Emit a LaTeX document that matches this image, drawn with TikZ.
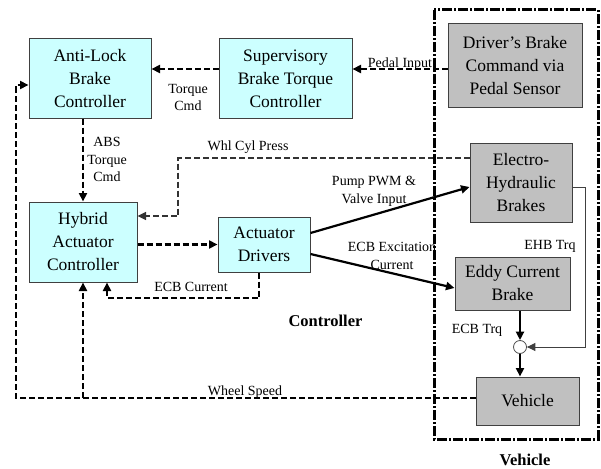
\documentclass[tikz,border=0pt]{standalone}
\usepackage{fontspec}
\setmainfont{Liberation Serif}
\usetikzlibrary{arrows.meta,calc}
\definecolor{ctlfill}{HTML}{CCFFFF}
\definecolor{plantfill}{HTML}{C0C0C0}
\begin{document}
\begin{tikzpicture}[x=1pt,y=-1pt,
  blk/.style={draw=black!75,line width=1pt,inner sep=0pt,align=center,font=\fontsize{17.5}{23}\selectfont},
  ctl/.style={blk,fill=ctlfill},
  plant/.style={blk,fill=plantfill},
  lbl/.style={font=\fontsize{14}{17.5}\selectfont,align=center,inner sep=0pt},
  boldlbl/.style={font=\fontsize{16.5}{20}\selectfont\bfseries,inner sep=0pt},
  tip/.style={-{Triangle[length=8.5pt,width=8pt]}},
  dsh/.style={tip,dash pattern=on 6pt off 3pt,line width=2.2pt},
  sol/.style={tip,line width=2.2pt},
]
\useasboundingbox (0,0) rectangle (601,468);

% blocks
\node[ctl,minimum width=122pt,minimum height=79pt] (abs) at (90,78.5) {Anti-Lock\\Brake\\Controller};
\node[ctl,minimum width=133pt,minimum height=79pt] (sup) at (285.5,78.5) {Supervisory\\Brake Torque\\Controller};
\node[plant,minimum width=134pt,minimum height=83pt] (drv) at (515,65.5) {Driver’s Brake\\Command via\\Pedal Sensor};
\node[plant,minimum width=102pt,minimum height=79pt] (ehb) at (521,182.5) {Electro-\\Hydraulic\\Brakes};
\node[ctl,minimum width=108pt,minimum height=80pt] (hyb) at (83,242) {Hybrid\\Actuator\\Controller};
\node[ctl,minimum width=92pt,minimum height=55pt] (act) at (264,244.5) {Actuator\\Drivers};
\node[plant,minimum width=115pt,minimum height=53pt] (ecb) at (512.5,283.5) {Eddy Current\\Brake};
\node[plant,minimum width=103pt,minimum height=48pt] (veh) at (527.5,401) {Vehicle};
\node[draw=black!70,fill=white,circle,minimum size=13pt,inner sep=0pt,line width=0.8pt] (sum) at (520,347) {};

% helper coordinates
\coordinate (yped) at (0,69);
\coordinate (wc1) at (178,158);
\coordinate (wc2) at (178,216);
\coordinate (ec1) at (259,298);
\coordinate (ec2) at (107,298);
\coordinate (ws1) at (16,398);
\coordinate (ws2) at (16,85);
\coordinate (wsb) at (83,398);
\coordinate (eh1) at (585,187);
\coordinate (eh2) at (585,347);

% connectors
\draw[dsh] (drv.west |- yped) -- (sup.east |- yped);
\draw[dsh] (sup.west |- yped) -- (abs.east |- yped);
\draw[dsh] (abs.south -| hyb.north) -- (hyb.north);
\draw[dsh,line width=1.6pt,draw=black!80] (ehb.west |- wc1) -- (wc1) -- (wc2) -- (hyb.east |- wc2);
\draw[dsh] (hyb.east |- act.west) -- (act.west);
\draw[dsh] (act.south -| ec1) -- (ec1) -- (ec2) -- (hyb.south -| ec2);
\draw[dsh] (veh.west |- ws1) -- (ws1) -- (ws2) -- (abs.west |- ws2);
\draw[dsh] (wsb) -- (hyb.south);
\draw[sol] ([yshift=11.5pt]act.east) -- ([yshift=-4.5pt]ehb.west);
\draw[sol] ([yshift=-9.5pt]act.east) -- ([yshift=-4.5pt]ecb.west);
\draw[tip,line width=1pt,draw=black!75] (ehb.east |- eh1) -- (eh1) -- (eh2) -- (sum.east);
\draw[sol] (ecb.south -| sum) -- (sum.north);
\draw[sol] (sum.south) -- (veh.north -| sum);

% vehicle boundary
\draw[line width=3pt,dash pattern=on 10pt off 2pt on 2pt off 2pt] (434,10) rectangle (598,439);

% labels
\node[lbl] (pedl) at (400,64) {Pedal Input};
\node[lbl] (tql) at (188,97.5) {Torque\\Cmd};
\node[lbl] (absl) at (107,159.5) {ABS\\Torque\\Cmd};
\node[lbl] (wcl) at (248,147) {Whl Cyl Press};
\node[lbl] (ecl) at (191,287) {ECB Current};
\node[lbl] (wsl) at (245,392) {Wheel Speed};
\node[lbl] (pwl) at (374,191.5) {Pump PWM \&\\Valve Input};
\node[lbl] (exl) at (392,256) {ECB Excitation\\Current};
\node[lbl] (ehl) at (550,246) {EHB Trq};
\node[lbl] (etl) at (477,330) {ECB Trq};
\node[boldlbl] (ctll) at (325.5,321) {Controller};
\node[boldlbl] (vehl) at (525,460) {Vehicle};
\end{tikzpicture}
\end{document}
